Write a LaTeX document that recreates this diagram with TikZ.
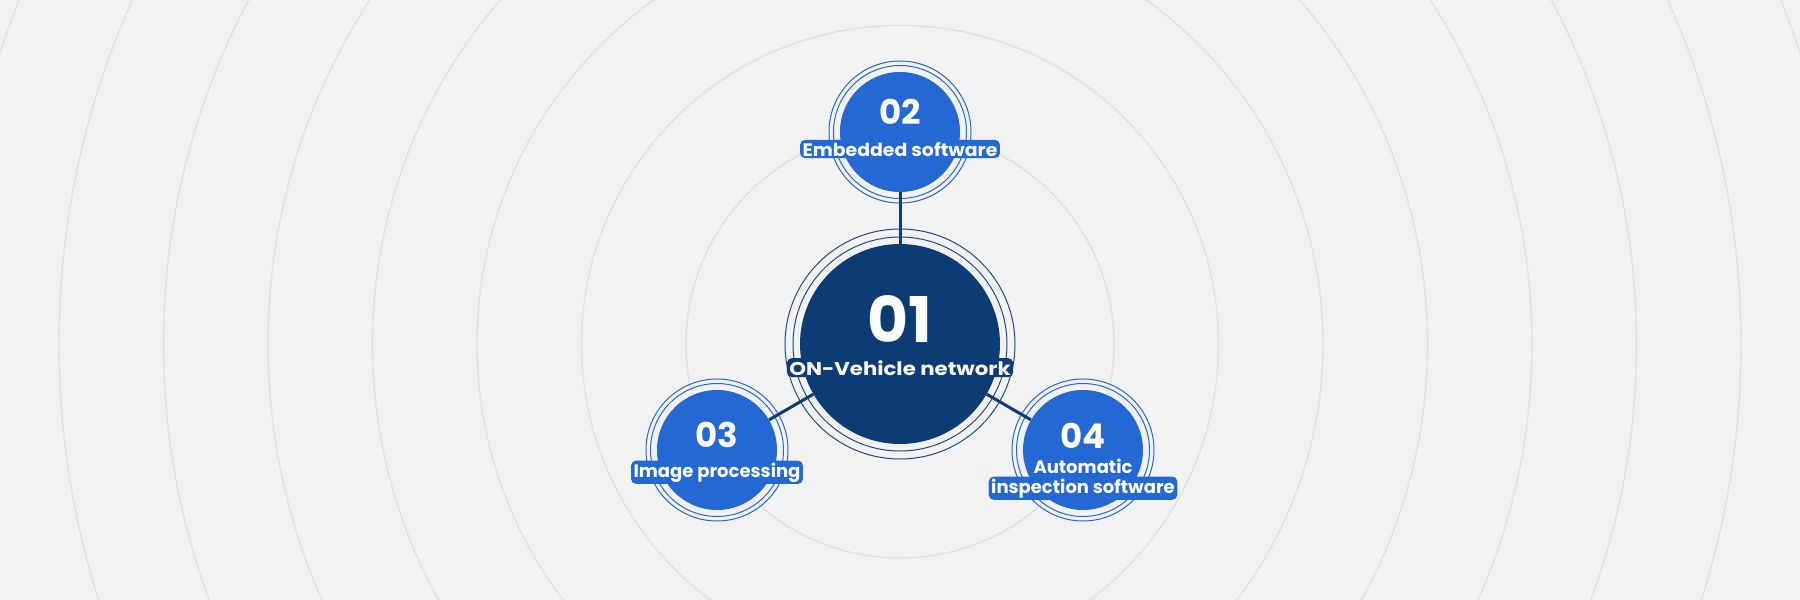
\documentclass[tikz,border=0pt]{standalone}
\usepackage{fontspec}
\newfontfamily\pop{Poppins}
\newfontfamily\popa{Poppins}[FakeStretch=1.15]
\newfontfamily\popb{Poppins}[FakeStretch=1.05]
\definecolor{bgc}{HTML}{F2F2F2}
\definecolor{ringgray}{HTML}{E1E1E1}
\definecolor{navy}{HTML}{0D3B73}
\definecolor{navyring}{HTML}{1A4A85}
\definecolor{bluef}{HTML}{2368D3}
\tikzset{
  bgring/.style={draw=ringgray,line width=1.3pt},
  bigcirc/.style={circle,fill=navy,minimum size=200pt,inner sep=0pt},
  smallcirc/.style={circle,fill=bluef,minimum size=120pt,inner sep=0pt},
  navyring/.style={draw=navyring,line width=1pt},
  bluering/.style={draw=bluef,line width=1pt},
  conn/.style={draw=navy,line width=3pt},
  numtxt/.style={anchor=base,text=white,font=\pop\bfseries\fontsize{34}{34}\selectfont,inner sep=0pt},
  bignum/.style={anchor=base,text=white,font=\pop\bfseries\fontsize{63}{63}\selectfont,inner sep=0pt},
  lbl/.style={anchor=base,text=white,font=\pop\bfseries\fontsize{18}{18}\selectfont,inner xsep=2.5pt,inner ysep=2pt,rounded corners=5pt},
}
\begin{document}
\begin{tikzpicture}[x=1pt,y=-1pt]
\useasboundingbox (0,0) rectangle (1800,600);
\fill[bgc] (0,0) rectangle (1800,600);
\begin{scope}
\clip (0,0) rectangle (1800,600);
\foreach \k in {0,...,8} {
  \draw[bgring] (900,344) circle ({214+104.5*\k});
}
\end{scope}
% rings
\draw[navyring] (900,344) circle (107);
\draw[navyring] (900,344) circle (115);
\draw[bluering] (900,132) circle (66.5);
\draw[bluering] (900,132) circle (71);
\draw[bluering] (717,450) circle (66.5);
\draw[bluering] (717,450) circle (71);
\draw[bluering] (1083,450) circle (66.5);
\draw[bluering] (1083,450) circle (71);
% circles
\node[bigcirc] (n1) at (900,344) {};
\node[smallcirc] (n2) at (900,132) {};
\node[smallcirc] (n3) at (717,450) {};
\node[smallcirc] (n4) at (1083,450) {};
% connectors
\draw[conn] (n2) -- (n1);
\draw[conn] (n1) -- (n3);
\draw[conn] (n1) -- (n4);
% texts
\node[bignum] (t1) at (900,342) {01};
\node[lbl,fill=navy,font=\popa\bfseries\fontsize{18.5}{18.5}\selectfont] (l1) at (900,375) {ON-Vehicle network};
\node[numtxt] (t2) at (900,124) {02};
\node[lbl,fill=bluef,font=\popb\bfseries\fontsize{18}{18}\selectfont] (l2) at (900,156) {Embedded software};
\node[numtxt] (t3) at (717,447) {03};
\node[lbl,fill=bluef] (l3) at (717,477) {Image processing};
\node[numtxt] (t4) at (1083,448) {04};
\node[lbl] (l4a) at (1083,473) {Automatic};
\node[lbl,fill=bluef] (l4b) at (1083,493) {inspection software};
\end{tikzpicture}
\end{document}
